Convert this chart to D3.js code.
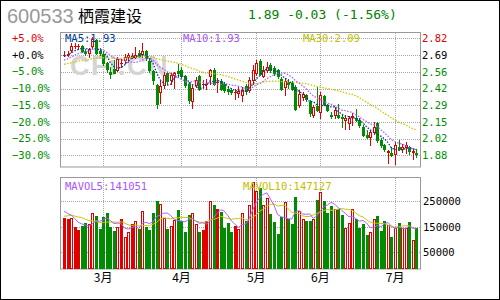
<!DOCTYPE html>
<html>
<head>
<meta charset="utf-8">
<script src="https://cdn.jsdelivr.net/npm/d3@7"></script>
<style>
  body { margin: 0; background: #fff; }
  svg { display: block; }
</style>
</head>
<body>
<div id="hook"></div>
<script>
// 600533 daily k-line, Feb - Jul
var stockCode = "600533";
var stockName = "栖霞建设";
var quoteText = "1.89 -0.03 (-1.56%)";
var basePrice = 2.69;
var pctTicks = [5, 0, -5, -10, -15, -20, -25, -30];
var volTicks = [250000, 150000, 50000];
var monthStart = [11, 33, 54, 72, 93];
var monthNames = ["3月", "4月", "5月", "6月", "7月"];
var maLabels = ["MA5:1.93", "MA10:1.93", "MA30:2.09"];
var volLabels = ["MAVOL5:141051", "MAVOL10:147127"];

// closes / volumes before the first shown day, only used for the moving averages
var prevCloses = [2.55, 2.57, 2.56, 2.58, 2.60, 2.59, 2.57, 2.58, 2.60, 2.62,
                  2.61, 2.63, 2.60, 2.62, 2.64, 2.61, 2.60, 2.62, 2.63, 2.62,
                  2.60, 2.62, 2.61, 2.63, 2.64, 2.65, 2.66, 2.69, 2.70];
var prevVolumes = [170000, 160000, 180000, 175000, 170000, 230000, 210000, 220000, 210000];

var open = [2.69, 2.70, 2.73, 2.765, 2.763, 2.765, 2.725, 2.709, 2.763, 2.811,
            2.725, 2.698, 2.628, 2.553, 2.582, 2.569, 2.628, 2.65, 2.671, 2.685,
            2.677, 2.703, 2.698, 2.725, 2.644, 2.563, 2.448, 2.394, 2.448, 2.542,
            2.488, 2.529, 2.563, 2.569, 2.52, 2.461, 2.321, 2.448, 2.52, 2.461,
            2.461, 2.52, 2.574, 2.475, 2.483, 2.461, 2.421, 2.413, 2.394, 2.386,
            2.367, 2.44, 2.413, 2.488, 2.547, 2.644, 2.52, 2.574, 2.609, 2.59,
            2.569, 2.494, 2.434, 2.475, 2.467, 2.434, 2.29, 2.35, 2.37, 2.31,
            2.21, 2.28, 2.235, 2.36, 2.285, 2.21, 2.205, 2.206, 2.192, 2.165,
            2.145, 2.195, 2.18, 2.165, 2.115, 2.045, 2.031, 2.07, 2.14, 2.004,
            1.965, 1.907, 1.902, 1.89, 1.95, 1.93, 1.95, 1.95, 1.91, 1.905];
var close = [2.69, 2.70, 2.763, 2.765, 2.763, 2.725, 2.703, 2.736, 2.816, 2.703,
             2.709, 2.623, 2.577, 2.537, 2.547, 2.655, 2.628, 2.677, 2.69, 2.685,
             2.69, 2.682, 2.725, 2.663, 2.569, 2.488, 2.30, 2.44, 2.529, 2.483,
             2.529, 2.542, 2.542, 2.52, 2.448, 2.327, 2.429, 2.488, 2.421, 2.461,
             2.461, 2.574, 2.461, 2.475, 2.421, 2.413, 2.402, 2.394, 2.394, 2.402,
             2.407, 2.402, 2.488, 2.574, 2.623, 2.537, 2.574, 2.596, 2.569, 2.542,
             2.52, 2.421, 2.483, 2.456, 2.421, 2.26, 2.38, 2.375, 2.34, 2.22,
             2.27, 2.25, 2.365, 2.30, 2.25, 2.20, 2.245, 2.192, 2.18, 2.18,
             2.18, 2.20, 2.165, 2.125, 2.045, 2.031, 2.07, 2.115, 2.005, 1.965,
             1.93, 1.915, 1.883, 1.964, 1.93, 1.95, 1.964, 1.918, 1.92, 1.89];
var high = [2.725, 2.72, 2.784, 2.784, 2.778, 2.771, 2.736, 2.744, 2.832, 2.816,
            2.744, 2.709, 2.636, 2.596, 2.65, 2.671, 2.655, 2.698, 2.703, 2.709,
            2.752, 2.73, 2.79, 2.73, 2.655, 2.574, 2.461, 2.488, 2.555, 2.555,
            2.542, 2.555, 2.62, 2.596, 2.529, 2.475, 2.448, 2.515, 2.529, 2.488,
            2.494, 2.582, 2.59, 2.502, 2.494, 2.475, 2.44, 2.429, 2.421, 2.44,
            2.434, 2.461, 2.515, 2.609, 2.65, 2.655, 2.601, 2.636, 2.623, 2.601,
            2.582, 2.515, 2.502, 2.494, 2.483, 2.448, 2.41, 2.39, 2.38, 2.327,
            2.286, 2.435, 2.394, 2.37, 2.30, 2.233, 2.27, 2.30, 2.205, 2.205,
            2.20, 2.225, 2.26, 2.18, 2.125, 2.085, 2.085, 2.15, 2.15, 2.02,
            1.977, 1.924, 1.95, 1.99, 2.004, 1.977, 1.99, 1.956, 1.936, 1.936];
var low = [2.68, 2.685, 2.717, 2.744, 2.738, 2.717, 2.69, 2.677, 2.757, 2.698,
           2.69, 2.609, 2.555, 2.502, 2.542, 2.563, 2.596, 2.628, 2.636, 2.663,
           2.663, 2.677, 2.677, 2.65, 2.555, 2.461, 2.265, 2.305, 2.429, 2.461,
           2.456, 2.429, 2.515, 2.502, 2.434, 2.305, 2.268, 2.434, 2.413, 2.429,
           2.421, 2.461, 2.448, 2.394, 2.407, 2.394, 2.38, 2.38, 2.34, 2.353,
           2.321, 2.38, 2.394, 2.461, 2.529, 2.529, 2.515, 2.555, 2.555, 2.529,
           2.502, 2.413, 2.367, 2.429, 2.413, 2.246, 2.27, 2.33, 2.32, 2.198,
           2.19, 2.24, 2.187, 2.29, 2.24, 2.18, 2.18, 2.18, 2.11, 2.098,
           2.098, 2.125, 2.16, 2.11, 2.036, 2.02, 1.964, 2.058, 1.99, 1.95,
           1.918, 1.82, 1.875, 1.816, 1.923, 1.91, 1.90, 1.897, 1.856, 1.87];
var volume = [185000, 182000, 185000, 149000, 136000, 152000, 163000, 159000, 202000, 191000,
              142000, 186000, 202000, 149000, 133000, 149000, 182000, 110000, 129000, 162000,
              172000, 142000, 211000, 149000, 137000, 203000, 250000, 237000, 185000, 142000,
              152000, 177000, 215000, 172000, 129000, 195000, 202000, 162000, 129000, 137000,
              172000, 250000, 234000, 218000, 207000, 146000, 166000, 129000, 152000, 142000,
              205000, 172000, 233000, 324000, 289000, 302000, 233000, 263000, 201000, 168000,
              123000, 189000, 246000, 179000, 162000, 266000, 211000, 180000, 172000, 172000,
              179000, 254000, 285000, 250000, 205000, 230000, 220000, 220000, 195000, 146000,
              166000, 218000, 182000, 146000, 159000, 117000, 129000, 181000, 191000, 133000,
              172000, 155000, 110000, 146000, 163000, 145000, 146000, 170000, 100000, 144000];

(function () {
    var w = 500;
    var h = 300;
    var N = close.length;
    var RED = "#e00000", GREEN = "#008c00", GRID = "#a8a8a8", FRAME = "#999";
    var mono = "'DejaVu Sans Mono', monospace";

    var svg = d3.select("#hook")
        .append("svg")
        .attr("width", w)
        .attr("height", h)
        .style("font-family", mono);

    svg.append("rect")
        .attr("x", 0.5).attr("y", 0.5)
        .attr("width", w - 1).attr("height", h - 1)
        .attr("fill", "#fff").attr("stroke", "#000");

    var x = d3.scaleBand().domain(d3.range(N)).range([62.2, 418.2]);
    function cx(i) { return Math.round(x(i) + x.bandwidth() / 2); }
    var yP = d3.scaleLinear().domain([1.789, 2.876]).range([167, 32]);
    var yV = d3.scaleLinear().domain([-15000, 340000]).range([269, 178]);
    var priceTicks = pctTicks.map(function (p) { return basePrice * (1 + p / 100); });

    // moving averages
    function movAvg(prev, vals, n) {
        var all = prev.concat(vals), off = prev.length;
        return vals.map(function (v, i) {
            return d3.mean(all.slice(off + i - n + 1, off + i + 1));
        });
    }
    var ma5 = movAvg(prevCloses, close, 5);
    var ma10 = movAvg(prevCloses, close, 10);
    var ma30 = movAvg(prevCloses.concat([]), close, 30);
    var mav5 = movAvg(prevVolumes, volume, 5);
    var mav10 = movAvg(prevVolumes, volume, 10);

    // header
    svg.append("text").attr("x", 7).attr("y", 23)
        .style("font-family", "'Liberation Sans', Arial, sans-serif")
        .style("font-size", "20px").attr("fill", "#999").text(stockCode);
    svg.append("text").attr("x", 78).attr("y", 22)
        .style("font-family", "'Noto Sans CJK SC', sans-serif")
        .style("font-size", "16px").attr("fill", "#000").text(stockName);
    svg.append("text").attr("x", 248).attr("y", 19)
        .style("font-size", "13px").attr("fill", "#008000").text(quoteText);

    // panels
    var price = svg.append("g");
    var vol = svg.append("g");
    price.append("rect").attr("x", 60.5).attr("y", 32.5).attr("width", 360).attr("height", 134.5)
        .attr("fill", "#fff").attr("stroke", FRAME);
    vol.append("rect").attr("x", 60.5).attr("y", 177.5).attr("width", 360).attr("height", 91.5)
        .attr("fill", "#fff").attr("stroke", FRAME);

    // grids
    price.selectAll(".hg").data(priceTicks).enter().append("line")
        .attr("x1", 61).attr("x2", 420)
        .attr("y1", function (d) { return Math.round(yP(d)) + 0.5; })
        .attr("y2", function (d) { return Math.round(yP(d)) + 0.5; })
        .attr("stroke", GRID).attr("stroke-dasharray", "1,1");
    price.selectAll(".vg").data(monthStart).enter().append("line")
        .attr("x1", function (d) { return cx(d) + 0.5; })
        .attr("x2", function (d) { return cx(d) + 0.5; })
        .attr("y1", 33).attr("y2", 167)
        .attr("stroke", GRID).attr("stroke-dasharray", "1,1");
    vol.selectAll(".hg").data(volTicks).enter().append("line")
        .attr("x1", 61).attr("x2", 420)
        .attr("y1", function (d) { return Math.round(yV(d)) + 0.5; })
        .attr("y2", function (d) { return Math.round(yV(d)) + 0.5; })
        .attr("stroke", GRID).attr("stroke-dasharray", "1,1");
    vol.selectAll(".vg").data(monthStart).enter().append("line")
        .attr("x1", function (d) { return cx(d) + 0.5; })
        .attr("x2", function (d) { return cx(d) + 0.5; })
        .attr("y1", 178).attr("y2", 269)
        .attr("stroke", GRID).attr("stroke-dasharray", "1,1");

    // watermark
    price.append("text").attr("x", 70).attr("y", 75)
        .style("font-family", "'Liberation Sans', Arial, sans-serif")
        .style("font-size", "27px").style("font-weight", "bold")
        .style("letter-spacing", "1.5px")
        .attr("fill", "#d4d4d4").text("CFi.CN");

    // candles
    var days = d3.range(N);
    price.selectAll(".wick").data(days).enter().append("line")
        .attr("x1", function (i) { return cx(i) + 0.5; })
        .attr("x2", function (i) { return cx(i) + 0.5; })
        .attr("y1", function (i) { return Math.round(yP(high[i])); })
        .attr("y2", function (i) { return Math.round(yP(low[i])) + 1; })
        .attr("stroke", function (i) { return close[i] < open[i] ? GREEN : RED; });

    days.forEach(function (i) {
        var yo = Math.round(yP(open[i])), yc = Math.round(yP(close[i]));
        if (close[i] > open[i] && yo - yc >= 2) {
            price.append("rect").attr("x", cx(i) - 0.5).attr("y", yc + 0.5)
                .attr("width", 2).attr("height", yo - yc)
                .attr("fill", "#fff").attr("stroke", RED);
        } else if (close[i] < open[i] && yc - yo >= 1) {
            price.append("rect").attr("x", cx(i) - 1).attr("y", yo)
                .attr("width", 3).attr("height", Math.max(1, yc - yo + 1))
                .attr("fill", GREEN);
        } else {
            price.append("rect").attr("x", cx(i) - 1).attr("y", Math.min(yo, yc))
                .attr("width", 3).attr("height", Math.abs(yo - yc) + 1)
                .attr("fill", close[i] < open[i] ? GREEN : RED);
        }
    });

    // price moving averages
    var lineP = d3.line()
        .x(function (d, i) { return x(i) + x.bandwidth() / 2; })
        .y(function (d) { return yP(d); });
    [[ma30, "#c8c800"], [ma10, "#b060ff"], [ma5, "#003c96"]].forEach(function (m) {
        price.append("path").attr("d", lineP(m[0]))
            .attr("fill", "none").attr("stroke", m[1])
            .attr("stroke-width", 1.3).attr("stroke-dasharray", "1.5,1.5");
    });

    // volume bars
    days.forEach(function (i) {
        var yv = Math.round(yV(volume[i]));
        if (close[i] > open[i]) {
            vol.append("rect").attr("x", cx(i) - 0.5).attr("y", yv + 0.5)
                .attr("width", 2).attr("height", 268 - yv)
                .attr("fill", "#fff").attr("stroke", RED);
        } else {
            vol.append("rect").attr("x", cx(i) - 1).attr("y", yv)
                .attr("width", 3).attr("height", 269 - yv)
                .attr("fill", close[i] < open[i] ? GREEN : RED);
        }
    });

    var lineV = d3.line()
        .x(function (d, i) { return x(i) + x.bandwidth() / 2; })
        .y(function (d) { return yV(d); });
    [[mav10, "#c8c800"], [mav5, "#b060ff"]].forEach(function (m) {
        vol.append("path").attr("d", lineV(m[0]))
            .attr("fill", "none").attr("stroke", m[1]).attr("stroke-width", 1);
    });

    // legends
    var maColors = ["#003c96", "#a855f7", "#c0c000"];
    svg.selectAll(".malab").data(maLabels).enter().append("text")
        .attr("x", function (d, i) { return [65, 183, 303][i]; })
        .attr("y", 42)
        .style("font-size", "10.5px")
        .attr("fill", function (d, i) { return maColors[i]; })
        .text(function (d) { return d; });
    svg.selectAll(".vlab").data(volLabels).enter().append("text")
        .attr("x", function (d, i) { return [65, 243][i]; })
        .attr("y", 190)
        .style("font-size", "10.5px")
        .attr("fill", function (d, i) { return ["#a855f7", "#c0c000"][i]; })
        .text(function (d) { return d; });

    // axes
    function tone(v) { return v > 0 ? RED : (v < 0 ? GREEN : "#000"); }
    var axP = svg.append("g").attr("transform", "translate(420,0)")
        .call(d3.axisRight(yP).tickValues(priceTicks).tickSize(0).tickPadding(2)
            .tickFormat(d3.format(".2f")));
    axP.select(".domain").remove();
    axP.selectAll("text")
        .style("font-family", mono).style("font-size", "10.5px")
        .attr("fill", function (d, i) { return tone(pctTicks[i]); });

    svg.selectAll(".pct").data(pctTicks).enter().append("text")
        .attr("x", 12)
        .attr("y", function (d, i) { return yP(priceTicks[i]); })
        .attr("dy", "0.35em")
        .style("font-size", "10.5px")
        .attr("fill", function (d) { return tone(d); })
        .text(function (d) { return (d >= 0 ? "+" : "") + d3.format(".1f")(d) + "%"; });

    var axV = svg.append("g").attr("transform", "translate(420,0)")
        .call(d3.axisRight(yV).tickValues(volTicks).tickSize(0).tickPadding(3)
            .tickFormat(d3.format("d")));
    axV.select(".domain").remove();
    axV.selectAll("text").style("font-family", mono).style("font-size", "10.5px").attr("fill", "#000");

    var axM = svg.append("g").attr("transform", "translate(0,269)")
        .call(d3.axisBottom(x).tickValues(monthStart).tickSize(0).tickPadding(4)
            .tickFormat(function (d) { return monthNames[monthStart.indexOf(d)]; }));
    axM.select(".domain").remove();
    axM.selectAll("text")
        .style("font-family", "'Noto Sans CJK SC', sans-serif")
        .style("font-size", "12px").attr("fill", "#000");
})();
</script>
</body>
</html>
